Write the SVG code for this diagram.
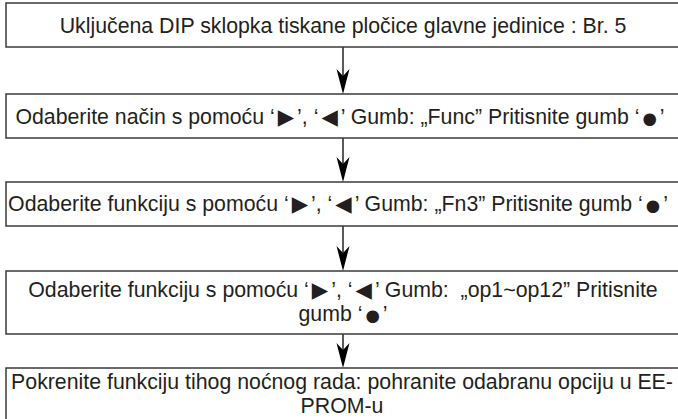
<svg xmlns="http://www.w3.org/2000/svg" width="678" height="419" viewBox="0 0 678 419">
<defs>
<style>
.box{fill:#fff;stroke:#3a3a3a;stroke-width:1.5}
.t{font-family:"Liberation Sans","DejaVu Sans",Arial,sans-serif;font-size:21.3px;fill:#231f20;text-anchor:middle}
.s{font-family:"DejaVu Sans",sans-serif;font-size:16.5px}
.ln{stroke:#000;stroke-width:1.3;fill:none}
.ah{fill:#000}
</style>
</defs>
<rect width="678" height="419" fill="#fff"/>
<g id="connectors">
<line class="ln" x1="343" y1="47" x2="343" y2="82"/>
<polygon class="ah" points="343,94 336.5,69 343,76 349.5,69"/>
<line class="ln" x1="343" y1="138" x2="343" y2="170"/>
<polygon class="ah" points="343,182 336.5,157 343,164 349.5,157"/>
<line class="ln" x1="343" y1="226" x2="343" y2="259"/>
<polygon class="ah" points="343,271 336.5,246 343,253 349.5,246"/>
<line class="ln" x1="343" y1="334" x2="343" y2="356"/>
<polygon class="ah" points="343,368 336.5,343 343,350 349.5,343"/>
</g>
<g id="n1">
<rect class="box" x="6" y="3" width="676" height="44"/>
<text class="t" x="343" y="33">Uključena DIP sklopka tiskane pločice glavne jedinice : Br. 5</text>
</g>
<g id="n2">
<rect class="box" x="6" y="94" width="676" height="44"/>
<text class="t" x="340" y="123.5">Odaberite način s pomoću ‘<tspan dx="3">▶</tspan><tspan dx="3">’,</tspan> ‘<tspan dx="3">◀</tspan><tspan dx="3">’</tspan> Gumb: „Func” Pritisnite gumb ‘<tspan dx="3" class="s">●</tspan><tspan dx="3">’</tspan></text>
</g>
<g id="n3">
<rect class="box" x="6" y="182" width="676" height="44"/>
<text class="t" x="338" y="211">Odaberite funkciju s pomoću ‘<tspan dx="3">▶</tspan><tspan dx="3">’,</tspan> ‘<tspan dx="3">◀</tspan><tspan dx="3">’</tspan> Gumb: „Fn3” Pritisnite gumb ‘<tspan dx="3" class="s">●</tspan><tspan dx="3">’</tspan></text>
</g>
<g id="n4">
<rect class="box" x="6" y="271" width="676" height="63"/>
<text class="t" x="343" y="297" xml:space="preserve">Odaberite funkciju s pomoću ‘<tspan dx="3">▶</tspan><tspan dx="3">’,</tspan> ‘<tspan dx="3">◀</tspan><tspan dx="3">’</tspan> Gumb:  „op1~op12” Pritisnite</text>
<text class="t" x="343" y="321">gumb ‘<tspan dx="3" class="s">●</tspan><tspan dx="3">’</tspan></text>
</g>
<g id="n5">
<rect class="box" x="6" y="368" width="676" height="70"/>
<text class="t" x="342" y="389">Pokrenite funkciju tihog noćnog rada: pohranite odabranu opciju u EE-</text>
<text class="t" x="342" y="413">PROM-u</text>
</g>
</svg>
